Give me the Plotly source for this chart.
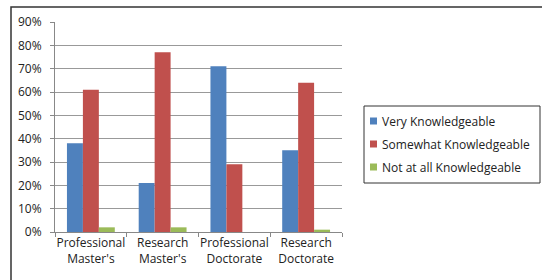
import plotly.graph_objects as go

categories = ["Professional<br>Master's", "Research<br>Master's", "Professional<br>Doctorate", "Research<br>Doctorate"]
very = [0.38, 0.21, 0.71, 0.35]
somewhat = [0.61, 0.77, 0.29, 0.64]
not_at_all = [0.02, 0.02, 0.0, 0.01]
series_names = ["Very Knowledgeable", "Somewhat Knowledgeable", "Not at all Knowledgeable"]
colors = ["#4F81BD", "#C0504D", "#9BBB59"]
y_ticks = [i / 10 for i in range(10)]

W, H = 542, 280
ml, mr, mt, mb = 55, 200, 22, 48
pw, ph = W - ml - mr, H - mt - mb

def px(x):
    return (x - ml) / pw

def py(y):
    return (H - mb - y) / ph

fig = go.Figure()
for name, vals, c in zip(series_names, [very, somewhat, not_at_all], colors):
    fig.add_trace(go.Bar(x=categories, y=vals, name=name, marker_color=c, marker_line_width=0))

shapes = [dict(
    type="rect", xref="paper", yref="paper",
    x0=px(11), x1=3, y0=-2, y1=py(7),
    line=dict(color="#333", width=1.5), fillcolor="rgba(0,0,0,0)", layer="below",
)]
# legend box
shapes.append(dict(type="rect", xref="paper", yref="paper",
                   x0=px(364), x1=px(540), y0=py(183), y1=py(106),
                   line=dict(color="#333", width=1), fillcolor="white"))
annotations = []
for i, (name, c) in enumerate(zip(series_names, colors)):
    yc = 121 + 23 * i
    shapes.append(dict(type="rect", xref="paper", yref="paper",
                       x0=px(370), x1=px(377), y0=py(yc + 3.5), y1=py(yc - 3.5),
                       line=dict(width=0), fillcolor=c))
    annotations.append(dict(xref="paper", yref="paper", x=px(380), y=py(yc),
                            xanchor="left", yanchor="middle", text=name, showarrow=False,
                            font=dict(size=12, color="#222")))

fig.update_layout(
    width=W, height=H,
    margin=dict(l=ml, r=mr, t=mt, b=mb, autoexpand=False),
    paper_bgcolor="white", plot_bgcolor="white",
    barmode="group", bargap=0.333, bargroupgap=0,
    font=dict(family="Open Sans, Liberation Sans, sans-serif", size=12, color="#222"),
    showlegend=False,
    xaxis=dict(
        showline=True, linecolor="#888", linewidth=1, tickangle=0, automargin=False,
        ticks="outside", tickson="boundaries", ticklen=4, tickcolor="#888",
        showgrid=False, tickfont=dict(size=12),
    ),
    yaxis=dict(
        range=[0, 0.9], tickvals=y_ticks, tickformat=".0%", automargin=False,
        showline=True, linecolor="#888", linewidth=1,
        ticks="outside", ticklen=4, tickcolor="#888", ticklabelstandoff=6,
        showgrid=True, gridcolor="#999", gridwidth=1,
        zeroline=False, tickfont=dict(size=12),
    ),
    shapes=shapes,
    annotations=annotations,
)

fig.write_html("out.html", config={"displayModeBar": False},
               post_script="document.body.style.margin='0';")
